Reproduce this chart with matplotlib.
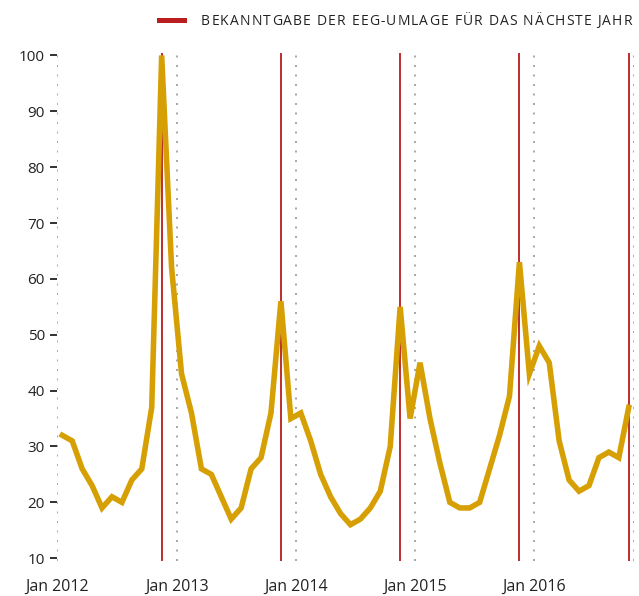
import numpy as np
import pandas as pd
import matplotlib
matplotlib.use("Agg")
import matplotlib.pyplot as plt
from matplotlib.lines import Line2D
from matplotlib.font_manager import FontProperties, findfont, get_font
from matplotlib.ft2font import LoadFlags

plt.rcParams['font.family'] = ['Open Sans', 'DejaVu Sans']

# monthly search interest, Jan 2012 - Oct 2016
months = list(pd.period_range("2012-01", "2016-10", freq="M").strftime("%Y-%m"))
interest = [32, 31, 26, 23, 19, 21, 20, 24, 26, 37, 100, 62,
            43, 36, 26, 25, 21, 17, 19, 26, 28, 36, 56, 35,
            36, 31, 25, 21, 18, 16, 17, 19, 22, 30, 55, 35,
            45, 35, 27, 20, 19, 19, 20, 26, 32, 39, 63, 43,
            48, 45, 31, 24, 22, 23, 28, 29, 28, 37]

# months in which the EEG-Umlage for the next year was announced
announce = ["2012-11", "2013-11", "2014-11", "2015-11", "2016-10"]
year_labels = ["Jan 2012", "Jan 2013", "Jan 2014", "Jan 2015", "Jan 2016"]
year_starts = ["2012-01", "2013-01", "2014-01", "2015-01", "2016-01"]
legend_text = "BEKANNTGABE DER EEG-UMLAGE FÜR DAS NÄCHSTE JAHR"

gold = "#D6A004"
red = "#B71C1C"
txt = "#222222"
W, H = 639, 596

x = np.arange(len(months))
year_pos = [months.index(m) - 0.5 for m in year_starts]
red_pos = [months.index(m) for m in announce]

fig = plt.figure(figsize=(W / 100, H / 100), dpi=100)
ax = fig.add_axes([0.0897, 0.0587, 0.902, 0.852])

# dotted gridlines at year starts and at the right edge
for p in year_pos + [len(months) - 0.5]:
    ax.axvline(p, color="#999999", lw=1.2, ls=(0, (1.2, 4.5)), zorder=1)

for p in red_pos:
    ax.axvline(p, color=red, lw=1.3, zorder=2)

ax.plot(x, interest, color=gold, lw=4, solid_joinstyle="miter", zorder=3)

ax.set_xlim(-0.5, len(months) - 0.5)
ax.set_ylim(9.5, 100.4)
ax.set_yticks(range(10, 101, 10))
ax.set_xticks(year_pos)
ax.set_xticklabels(year_labels)

for s in ax.spines.values():
    s.set_visible(False)
ax.tick_params(axis="y", length=5, width=1.3, color=txt, labelsize=11, labelcolor=txt, pad=4)
ax.tick_params(axis="x", length=0, labelsize=11.5, labelcolor=txt, pad=13)

# legend: red swatch + letter-spaced caption
fig.add_artist(Line2D([159 / W, 184 / W], [1 - 20 / H, 1 - 20 / H], color="#BB1E1E", lw=3.6))

fsize = 10
prop = FontProperties(family="Open Sans", size=fsize)
font = get_font(findfont(prop))
font.set_size(fsize, 100)
adv = []
for c in legend_text:
    g = font.load_char(ord(c), flags=LoadFlags.NO_HINTING)
    adv.append(g.linearHoriAdvance / 65536)
x0, x1 = 201, 632
track = (x1 - x0 - sum(adv)) / (len(legend_text) - 1)
pos = x0
for c, a in zip(legend_text, adv):
    fig.text(pos / W, 1 - 25 / H, c, fontsize=fsize, color=txt, ha="left", va="baseline",
             family="Open Sans")
    pos += a + track

fig.savefig("out.png", dpi=100)
